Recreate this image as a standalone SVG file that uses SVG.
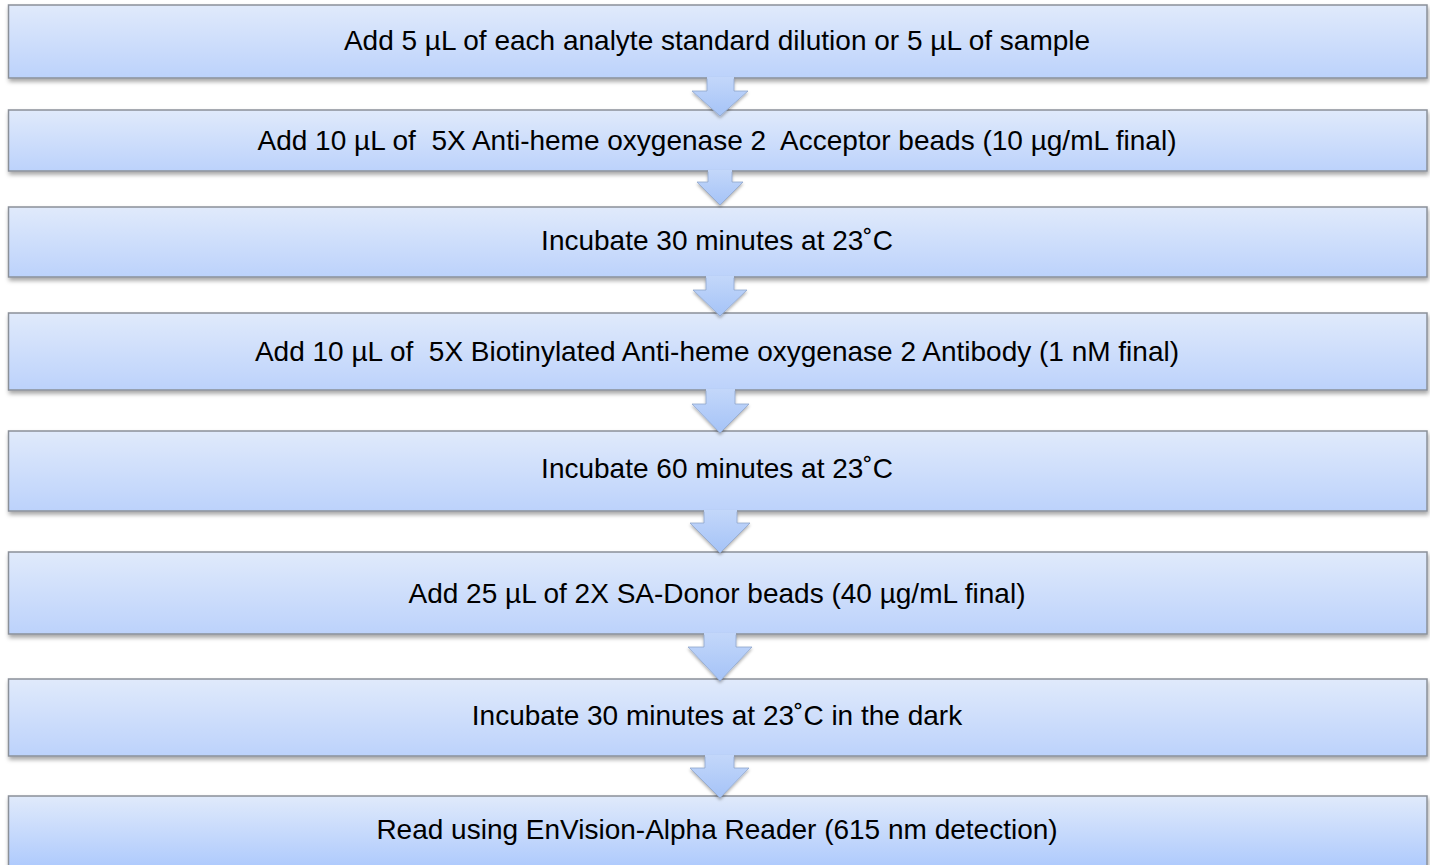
<svg xmlns="http://www.w3.org/2000/svg" width="1430" height="865" viewBox="0 0 1430 865">
<style>
.box{fill:url(#g);stroke:#8a9099;stroke-width:1.5;filter:url(#sh)}
.arr{fill:url(#ga);stroke:none}
.ars{fill:none;stroke:#8fa6cc;stroke-width:0.8}
.t{font-family:"Liberation Sans",Arial,sans-serif;font-size:28px;fill:#000;text-anchor:middle;white-space:pre}
</style>
<defs>
<linearGradient id="g" x1="0" y1="0" x2="0" y2="1">
<stop offset="0" stop-color="#e0eafb"/>
<stop offset="1" stop-color="#bcd2fb"/>
</linearGradient>
<linearGradient id="g8" x1="0" y1="0" x2="0" y2="1">
<stop offset="0" stop-color="#e0eafb"/>
<stop offset="1" stop-color="#a8c6fd"/>
</linearGradient>
<linearGradient id="ga" x1="0" y1="0" x2="0" y2="1">
<stop offset="0" stop-color="#c3d7fa"/>
<stop offset="1" stop-color="#a5c3f7"/>
</linearGradient>
<filter id="sh" x="-5%" y="-20%" width="110%" height="150%">
<feDropShadow dx="1" dy="3" stdDeviation="2" flood-color="#000" flood-opacity="0.35"/>
</filter>
<filter id="sh2" x="-30%" y="-30%" width="160%" height="160%">
<feDropShadow dx="0" dy="2" stdDeviation="1.5" flood-color="#000" flood-opacity="0.3"/>
</filter>
</defs>
<g id="n1"><rect class="box" x="8.5" y="5" width="1418.5" height="73"/><text class="t" x="717" y="50">Add 5 µL of each analyte standard dilution or 5 µL of sample</text></g>
<g id="n2"><rect class="box" x="8.5" y="110" width="1418.5" height="61"/><text class="t" x="717" y="150">Add 10 µL of  5X Anti-heme oxygenase 2  Acceptor beads (10 µg/mL final)</text></g>
<g id="n3"><rect class="box" x="8.5" y="207" width="1418.5" height="70"/><text class="t" x="717" y="250">Incubate 30 minutes at 23˚C</text></g>
<g id="n4"><rect class="box" x="8.5" y="313" width="1418.5" height="77"/><text class="t" x="717" y="361">Add 10 µL of  5X Biotinylated Anti-heme oxygenase 2 Antibody (1 nM final)</text></g>
<g id="n5"><rect class="box" x="8.5" y="431" width="1418.5" height="80"/><text class="t" x="717" y="478">Incubate 60 minutes at 23˚C</text></g>
<g id="n6"><rect class="box" x="8.5" y="552" width="1418.5" height="82"/><text class="t" x="717" y="603">Add 25 µL of 2X SA-Donor beads (40 µg/mL final)</text></g>
<g id="n7"><rect class="box" x="8.5" y="679" width="1418.5" height="77"/><text class="t" x="717" y="725">Incubate 30 minutes at 23˚C in the dark</text></g>
<g id="n8"><rect class="box" x="8.5" y="796" width="1418.5" height="80" style="fill:url(#g8)"/><text class="t" x="717" y="839">Read using EnVision-Alpha Reader (615 nm detection)</text></g>
<g id="connectors" filter="url(#sh2)">
<polygon class="arr" points="707,77 734,77 734,91 748,91 720,116 692,91 707,91"/>
<polyline class="ars" points="734,78.8 734,91 748,91 720,116 692,91 707,91 707,78.8"/>
<polygon class="arr" points="708,170 732,170 732,182 743,182 720,205 697,182 708,182"/>
<polyline class="ars" points="732,171.8 732,182 743,182 720,205 697,182 708,182 708,171.8"/>
<polygon class="arr" points="706,276 734,276 734,290 747,290 720,316 693,290 706,290"/>
<polyline class="ars" points="734,277.8 734,290 747,290 720,316 693,290 706,290 706,277.8"/>
<polygon class="arr" points="706,389 735,389 735,404 749,404 720,433 692,404 706,404"/>
<polyline class="ars" points="735,390.8 735,404 749,404 720,433 692,404 706,404 706,390.8"/>
<polygon class="arr" points="704,510 737,510 737,523 750,523 720,553 690,523 704,523"/>
<polyline class="ars" points="737,511.8 737,523 750,523 720,553 690,523 704,523 704,511.8"/>
<polygon class="arr" points="704,633 736,633 736,647 752,647 720,681 688,647 704,647"/>
<polyline class="ars" points="736,634.8 736,647 752,647 720,681 688,647 704,647 704,634.8"/>
<polygon class="arr" points="705,755 734,755 734,768 749,768 720,798 690,768 705,768"/>
<polyline class="ars" points="734,756.8 734,768 749,768 720,798 690,768 705,768 705,756.8"/>
</g>
</svg>
